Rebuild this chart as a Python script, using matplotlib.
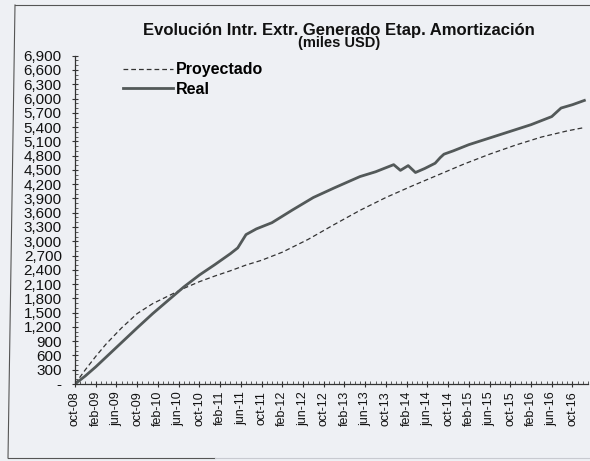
import matplotlib
matplotlib.use('Agg')
import matplotlib.pyplot as plt
from matplotlib.ticker import FuncFormatter, MultipleLocator
from matplotlib.lines import Line2D

# Datos (meses desde oct-08, miles USD)
meses_proy = [0, 2, 4, 6, 9, 12, 15, 18, 21, 24, 27, 30, 33, 36, 40, 45, 50,
              55, 60, 65, 70, 75, 80, 85, 90, 95, 98.3]
proyectado = [0, 300, 580, 840, 1180, 1480, 1690, 1850, 2010, 2150, 2270, 2380,
              2500, 2600, 2770, 3040, 3350, 3650, 3920, 4160, 4390, 4620, 4830,
              5020, 5190, 5320, 5390]

meses_real = [0, 2, 4, 8, 12, 15, 18, 21, 24, 27, 30, 31.4, 32.2, 33, 35, 38,
              42, 46, 50, 55, 58, 61.5, 62.8, 64.3, 65.7, 67.5, 69.5, 70.5,
              71.2, 73, 76, 80, 84, 88, 92, 93.8, 96, 98.3]
real = [0, 170, 360, 770, 1180, 1480, 1760, 2040, 2290, 2510, 2740, 2860, 3000,
        3140, 3260, 3390, 3660, 3920, 4120, 4360, 4460, 4610, 4490, 4590, 4445,
        4530, 4640, 4760, 4830, 4900, 5030, 5170, 5310, 5450, 5620, 5800, 5870,
        5960]

etiquetas_x = ['oct-08', 'feb-09', 'jun-09', 'oct-09', 'feb-10', 'jun-10',
               'oct-10', 'feb-11', 'jun-11', 'oct-11', 'feb-12', 'jun-12',
               'oct-12', 'feb-13', 'jun-13', 'oct-13', 'feb-14', 'jun-14',
               'oct-14', 'feb-15', 'jun-15', 'oct-15', 'feb-16', 'jun-16',
               'oct-16']

plt.rcParams['font.family'] = ['Liberation Sans', 'DejaVu Sans']

fondo = '#eef0f4'
fig = plt.figure(figsize=(5.9, 4.61), dpi=100, facecolor=fondo)
ax = fig.add_axes([75 / 590, 1 - 384 / 461, 513 / 590, 328.3 / 461])
ax.set_facecolor('none')

color_proy = '#333333'
color_real = '#535959'
estilo_proy = (0, (3.8, 2.4))

# Lineas
ax.plot(meses_proy, proyectado, color=color_proy, lw=0.9, ls=estilo_proy)
ax.plot(meses_real, real, color=color_real, lw=2.0)

# Ejes
ax.set_xlim(0, 99)
ax.set_ylim(0, 6900)
ax.spines['top'].set_visible(False)
ax.spines['right'].set_visible(False)
for s in ['left', 'bottom']:
    ax.spines[s].set_color('#333333')
    ax.spines[s].set_linewidth(0.9)

ax.set_xticks(range(0, 4 * len(etiquetas_x), 4))
ax.set_xticklabels(etiquetas_x, rotation=90, fontsize=9, color='#111111')
ax.xaxis.set_minor_locator(MultipleLocator(1))

ax.yaxis.set_major_locator(MultipleLocator(300))
ax.yaxis.set_minor_locator(MultipleLocator(100))
ax.yaxis.set_major_formatter(FuncFormatter(lambda v, p: '-' if v == 0 else f'{v:,.0f}'))

ax.tick_params(which='major', direction='inout', length=5, width=0.8, color='#333333')
ax.tick_params(axis='x', which='major', pad=2.5)
ax.tick_params(axis='y', which='major', pad=7, labelsize=11, labelcolor='#111111')
ax.tick_params(which='minor', direction='in', length=2, width=0.6, color='#444444')

# Leyenda
h_proy = Line2D([], [], color=color_proy, lw=0.9, ls=estilo_proy)
h_real = Line2D([], [], color=color_real, lw=2.0)
leg = ax.legend([h_proy, h_real], ['Proyectado', 'Real'], loc='upper left',
                bbox_to_anchor=((123 - 75) / 513, (384 - 62.5) / 328.3),
                frameon=False, handlelength=3.1, handletextpad=0.2,
                labelspacing=0.28, borderpad=0, borderaxespad=0,
                prop={'weight': 'bold', 'size': 11.5})

# Titulo
fig.text(339 / 590, 1 - 30 / 461, 'Evolución Intr. Extr. Generado Etap. Amortización',
         ha='center', va='center', fontsize=12, fontweight='bold', color='#111111')
fig.text(339 / 590, 1 - 43.5 / 461, '(miles USD)', ha='center', va='center',
         fontsize=10.5, fontweight='bold', color='#111111')

# Borde del area del grafico (escaneado)
fig.add_artist(Line2D([15 / 590, 1.0], [1 - 5 / 461, 1 - 5 / 461], color='#555555', lw=0.8))
fig.add_artist(Line2D([15 / 590, 8 / 590], [1 - 5 / 461, 1 - 458 / 461], color='#555555', lw=0.8))
fig.add_artist(Line2D([8 / 590, 215 / 590], [1 - 458 / 461, 1 - 458 / 461], color='#555555', lw=0.8))
fig.add_artist(Line2D([215 / 590, 1.0], [1 - 458 / 461, 1 - 458 / 461], color='#c8cad0', lw=0.8))

fig.savefig('out.png', dpi=100, facecolor=fondo)
